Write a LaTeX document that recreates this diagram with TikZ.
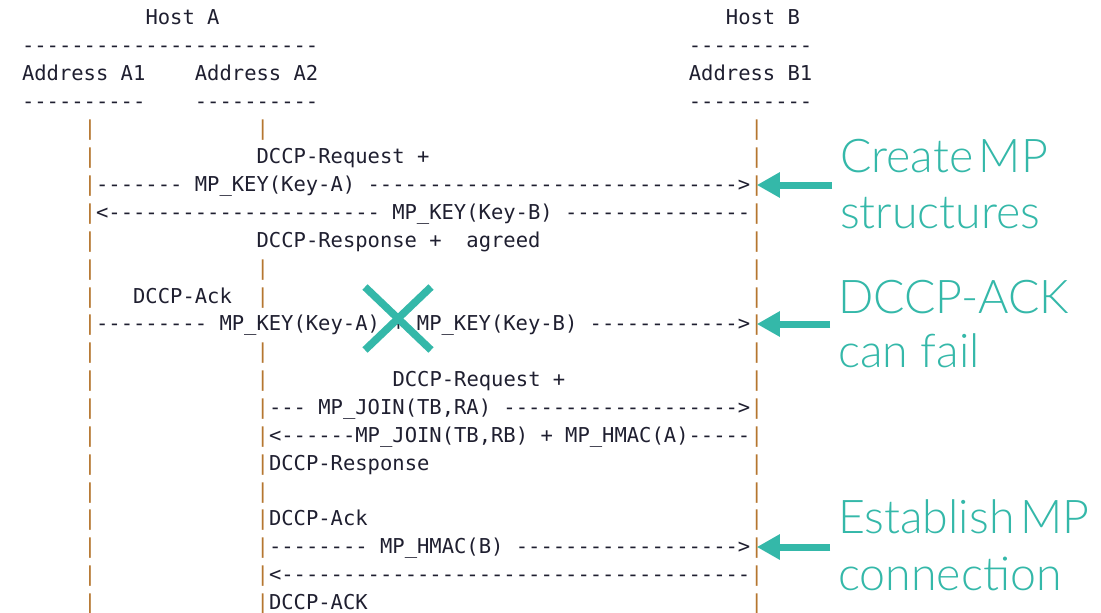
\documentclass[tikz,border=0pt]{standalone}
\usepackage{fontspec}
\setmonofont{DejaVu Sans Mono}
\newfontfamily\notefont{Lato Light}
\usetikzlibrary{arrows.meta,calc}

\definecolor{ink}{HTML}{1F1F30}
\definecolor{lifeline}{HTML}{B5762F}
\definecolor{accent}{HTML}{34B8A9}

% character grid of the ASCII chart
\newcommand\cw{12.35}
\newcommand\rh{27.86}
\newcommand\seg[4]{\node[mono] (#1) at ({22+#3*\cw},{24.5+#2*\rh}) {#4};}
\newcommand\vbar[3]{\node[mono,text=lifeline] (#1) at ({22+#3*\cw},{24.5+#2*\rh}) {|};}

\begin{document}
\begin{tikzpicture}[x=1pt,y=-1pt,
  mono/.style={font=\ttfamily\fontsize{20.5}{24}\selectfont,text=ink,
    anchor=base west,inner sep=0pt,outer sep=0pt},
  note/.style={font=\notefont\fontsize{46.5}{56}\selectfont,text=accent,
    anchor=base west,inner sep=0pt},
  notearrow/.style={draw=accent,line width=7pt,
    -{Triangle[length=23pt,width=24pt]}},
  cross/.style={draw=accent,line width=7.5pt}]
\fill[white] (0,0) rectangle (1101,613);
\useasboundingbox (0,0) rectangle (1101,613);

% headers
\seg{hostA}{0}{10}{Host~A}
\seg{hostB}{0}{57}{Host~B}
\seg{ruleA}{1}{0}{------------------------}
\seg{ruleB}{1}{54}{----------}
\seg{addrA1}{2}{0}{Address~A1}
\seg{addrA2}{2}{14}{Address~A2}
\seg{addrB1}{2}{54}{Address~B1}
\seg{ulA1}{3}{0}{----------}
\seg{ulA2}{3}{14}{----------}
\seg{ulB1}{3}{54}{----------}

% lifelines
\foreach \r in {4,...,21} {\vbar{a\r}{\r}{5}}
\foreach \r in {4,9,10,12,13,14,15,16,17,18,19,20,21} {\vbar{m\r}{\r}{19}}
\foreach \r in {4,...,21} {\vbar{b\r}{\r}{59}}

% messages
\seg{req1}{5}{19}{DCCP-Request~+}
\seg{key1}{6}{6}{-------~MP\_KEY(Key-A)~------------------------------>}
\seg{key2}{7}{6}{<----------------------~MP\_KEY(Key-B)~---------------}
\seg{resp1}{8}{19}{DCCP-Response~+~~agreed}
\seg{ack1}{10}{9}{DCCP-Ack}
\seg{key3}{11}{6}{---------~MP\_KEY(Key-A)~+~MP\_KEY(Key-B)~------------>}
\seg{req2}{13}{30}{DCCP-Request~+}
\seg{join1}{14}{20}{---~MP\_JOIN(TB,RA)~------------------->}
\seg{join2}{15}{20}{<------MP\_JOIN(TB,RB)~+~MP\_HMAC(A)-----}
\seg{resp2}{16}{20}{DCCP-Response}
\seg{ack2}{18}{20}{DCCP-Ack}
\seg{hmac}{19}{20}{--------~MP\_HMAC(B)~------------------>}
\seg{back}{20}{20}{<--------------------------------------}
\seg{ack3}{21}{20}{DCCP-ACK}

% lost acknowledgement
\coordinate (fail) at (398,318.5);
\draw[cross] ($(fail)+(-33,-31.5)$) -- ($(fail)+(33,31.5)$);
\draw[cross] ($(fail)+(33,-31.5)$) -- ($(fail)+(-33,31.5)$);

% side notes
\node[note] (n1a) at (840,172) {Create\hspace{0.12em}MP};
\node[note] (n1b) at (840,228) {structures};
\node[note] (n2a) at (838,313) {DCCP-ACK};
\node[note] (n2b) at (838,367) {can fail};
\node[note] (n3a) at (838,533) {Establish\hspace{0.12em}MP};
\node[note] (n3b) at (838,590) {connection};

\coordinate (p1) at (832,185);
\coordinate (p2) at (830,324);
\coordinate (p3) at (830,547);
\draw[notearrow] (p1) -- (p1 -| b6);
\draw[notearrow] (p2) -- (p2 -| b11);
\draw[notearrow] (p3) -- (p3 -| b19);
\end{tikzpicture}
\end{document}
